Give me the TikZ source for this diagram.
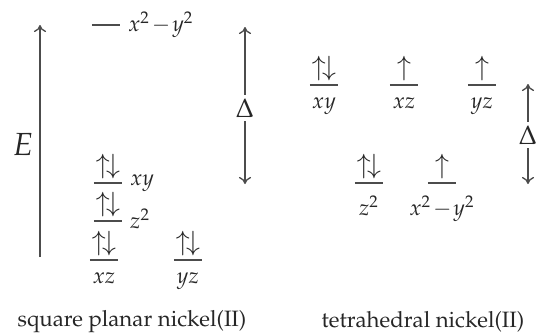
\documentclass[tikz,border=0pt]{standalone}
\usepackage[T1]{fontenc}
\usepackage{amsmath}
\usepackage{mathpazo}
\usepackage{xcolor}
\usepackage{tikz}
\usetikzlibrary{arrows.meta,positioning}
\tikzset{
  orb/.style={minimum width=12.6pt,minimum height=0pt,inner sep=0pt,outer sep=0pt},
  lvl/.style={line width=0.6pt,black!70},
  ax/.style={line width=0.6pt,black!70,-{To[length=3.2pt,width=5.5pt]}},
  el/.style={inner sep=0.8pt,text=black!85,font=\large},
  lab/.style={inner sep=1.5pt,text=black!85}
}
\newcommand{\lvl}[3]{\node[orb] (#1) at (#2,#3) {}; \draw[lvl] (#1.west) -- (#1.east);}
\newcommand{\pair}{$\uparrow\!\downarrow$}
\newcommand{\single}{$\uparrow$}
\newcommand{\xmy}{$x^2\mkern-2mu-\mkern-2mu y^2$}

\begin{document}
\begin{tikzpicture}[x=0.45pt,y=-0.45pt]
\useasboundingbox (0,0) rectangle (537,333);
% square planar
\coordinate (Ebot) at (40,257); \coordinate (Etop) at (40,25);
\draw[ax] (Ebot) -- (Etop);
\node[lab] (E) at (23,145) {\Large$E$};
\lvl{sqx}{106}{25} \node[lab,right=2pt of sqx.east] {\xmy};
\lvl{sqxy}{108}{183} \node[el,above=1pt of sqxy] {\pair}; \node[lab,right=2pt of sqxy.east] {$xy$};
\lvl{sqz}{108}{221} \node[el,above=1pt of sqz] {\pair}; \node[lab,right=2pt of sqz.east,yshift=1pt] {$z^2$};
\lvl{sqxz}{104}{260} \node[el,above=1pt of sqxz] {\pair}; \node[lab,below=4pt of sqxz] {$xz$};
\lvl{sqyz}{188}{260} \node[el,above=1pt of sqyz] {\pair}; \node[lab,below=4pt of sqyz] {$yz$};
\node[lab,font=\large] (dsq) at (245,108) {$\Delta$};
\coordinate (dsqtop) at (245,27); \coordinate (dsqbot) at (245,184);
\draw[ax] (dsq) -- (dsqtop); \draw[ax] (dsq) -- (dsqbot);
\node[lab] (capsq) at (132,322) {square planar nickel(II)};
% tetrahedral
\lvl{txy}{324}{85} \node[el,above=1pt of txy] {\pair}; \node[lab,below=4pt of txy] {$xy$};
\lvl{txz}{404}{85} \node[el,above=1pt of txz] {\single}; \node[lab,below=4pt of txz] {$xz$};
\lvl{tyz}{482}{85} \node[el,above=1pt of tyz] {\single}; \node[lab,below=4pt of tyz] {$yz$};
\lvl{tz}{369}{183} \node[el,above=1pt of tz] {\pair}; \node[lab,below=4pt of tz] {$z^2$};
\lvl{tx}{442}{183} \node[el,above=1pt of tx] {\single}; \node[lab,below=4pt of tx] {\xmy};
\node[lab,font=\large] (dt) at (528,135) {$\Delta$};
\coordinate (dttop) at (528,84); \coordinate (dtbot) at (528,184);
\draw[ax] (dt) -- (dttop); \draw[ax] (dt) -- (dtbot);
\node[lab] (capt) at (423,322) {tetrahedral nickel(II)};
\end{tikzpicture}
\end{document}
